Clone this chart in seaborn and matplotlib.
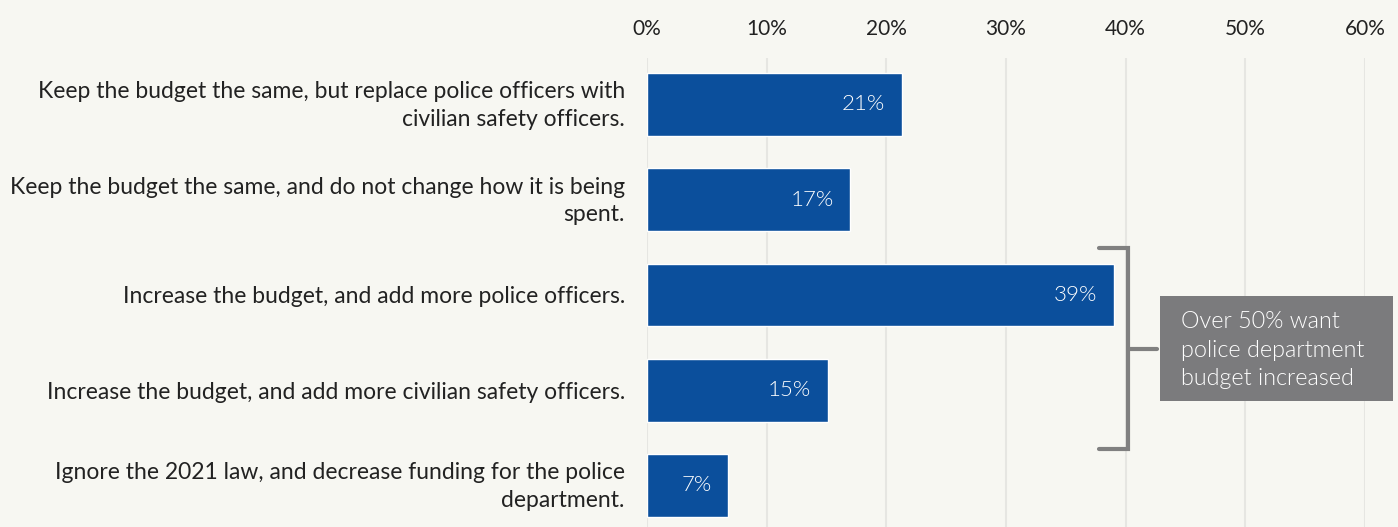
import matplotlib
matplotlib.use("Agg")
import matplotlib.pyplot as plt
import matplotlib.transforms as mtransforms
import seaborn as sns
import pandas as pd
from matplotlib.patches import Rectangle

categories = [
    "Keep the budget the same, but replace police officers with\ncivilian safety officers.",
    "Keep the budget the same, and do not change how it is being\nspent.",
    "Increase the budget, and add more police officers.",
    "Increase the budget, and add more civilian safety officers.",
    "Ignore the 2021 law, and decrease funding for the police\ndepartment.",
]
values = [21.3, 17.0, 39.0, 15.1, 6.8]
value_labels = ["21%", "17%", "39%", "15%", "7%"]
tick_values = [0, 10, 20, 30, 40, 50, 60]
tick_labels = ["0%", "10%", "20%", "30%", "40%", "50%", "60%"]
note_text = "Over 50% want\npolice department\nbudget increased"

BG = "#F7F7F2"
BAR = "#0B4F9C"
GRID = "#E6E6E2"
GRAY = "#7B7B7D"

sns.set_theme(style="white")
plt.rcParams["font.family"] = ["Lato", "DejaVu Sans"]

df = pd.DataFrame({"cat": categories, "val": values})

fig = plt.figure(figsize=(13.98, 5.27), dpi=100, facecolor=BG)
ax = fig.add_axes([0.4628, 0.0, 0.5136, 0.890])
ax.set_facecolor(BG)

sns.barplot(data=df, x="val", y="cat", orient="h", color=BAR, width=0.66,
            saturation=1, ax=ax, zorder=3)

ax.set_xlim(0, 60)
ax.set_ylim(4.436, -0.488)
ax.set_xticks(tick_values)
ax.set_xticklabels(tick_labels)
ax.xaxis.tick_top()
ax.tick_params(axis="x", length=0, pad=14, labelsize=15, labelcolor="#222222")
ax.tick_params(axis="y", length=0, pad=16, labelsize=16.5, labelcolor="#222222")
shift = mtransforms.ScaledTranslation(0, 4 / 100, fig.dpi_scale_trans)
for t in ax.get_yticklabels():
    t.set_linespacing(1.38)
    if "\n" in t.get_text():
        t.set_transform(t.get_transform() + shift)
ax.set_xlabel("")
ax.set_ylabel("")
for s in ax.spines.values():
    s.set_visible(False)
ax.grid(axis="x", color=GRID, linewidth=1.5, zorder=0)
ax.set_axisbelow(True)

for i, (v, lab) in enumerate(zip(values, value_labels)):
    ax.text(v - 1.4, i, lab, ha="right", va="center", color="white", fontsize=16,
            fontweight=300, zorder=4)

# bracket
bx, tip, stub = 40.2, 37.8, 42.6
y0, y1, ym = 1.507, 3.617, 2.567
ax.plot([tip, bx, bx, tip], [y0, y0, y1, y1], color="#808080", lw=3,
        solid_joinstyle="miter", clip_on=False, zorder=5)
ax.plot([bx, stub], [ym, ym], color="#808080", lw=3, clip_on=False, zorder=5)

ax.add_patch(Rectangle((42.9, 2.01), 19.4, 1.10, facecolor=GRAY, edgecolor="none",
                       clip_on=False, zorder=5))
ax.text(44.6, 2.58, note_text, ha="left", va="center", color="white", fontsize=16.8,
        fontweight=300, linespacing=1.45, zorder=6, clip_on=False)

fig.savefig("out.png", dpi=100, facecolor=BG)
